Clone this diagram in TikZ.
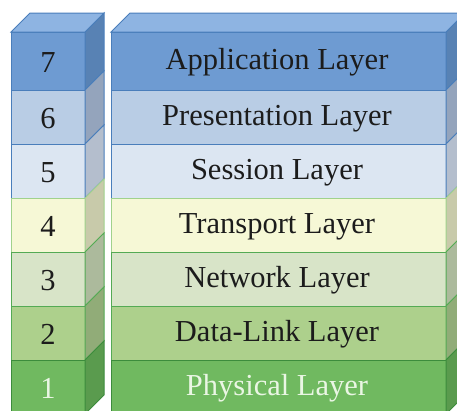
\documentclass[tikz,border=0pt]{standalone}
\usepackage{fontspec}
\setmainfont{Liberation Serif}
\definecolor{f7}{RGB}{110,155,210}\definecolor{s7}{RGB}{88,130,180}\definecolor{t7}{RGB}{142,180,226}\definecolor{bblue}{RGB}{74,126,187}
\definecolor{f6}{RGB}{185,205,229}\definecolor{s6}{RGB}{148,164,188}
\definecolor{f5}{RGB}{220,230,242}\definecolor{s5}{RGB}{180,190,205}
\definecolor{f4}{RGB}{246,248,214}\definecolor{s4}{RGB}{200,202,170}\definecolor{byel}{RGB}{160,210,140}
\definecolor{f3}{RGB}{216,228,200}\definecolor{s3}{RGB}{172,186,156}\definecolor{bgreen}{RGB}{84,170,84}
\definecolor{f2}{RGB}{173,208,140}\definecolor{s2}{RGB}{145,172,120}
\definecolor{f1}{RGB}{112,185,96}\definecolor{s1}{RGB}{90,155,78}\definecolor{bdark}{RGB}{60,140,60}
\definecolor{txt}{RGB}{28,28,28}\definecolor{txtw}{RGB}{234,246,228}
\newcommand\osilayer[9]{%
  \node[face=#6, fill=#4, minimum width=74pt, minimum height=#3pt, text=#9] (n#1) at (48,#2+#3/2) {};
  \node[text=#9, font=\fontsize{30.5}{36}\selectfont] (tn#1) at (48,#2+#3/2+1.5) {#7};
  \node[face=#6, fill=#4, minimum width=335pt, minimum height=#3pt, text=#9] (l#1) at (278.5,#2+#3/2) {};
  \node[text=#9, font=\fontsize{30.5}{36}\selectfont] (tl#1) at (277,#2+#3/2+1.5) {#8};
  \draw[sideface=#6, fill=#5] (n#1.north east) -- ++(19,-19) -- ([shift={(19,-19)}]n#1.south east) -- (n#1.south east) -- cycle;
  \draw[sideface=#6, fill=#5] (l#1.north east) -- ++(19,-19) -- ([shift={(19,-19)}]l#1.south east) -- (l#1.south east) -- cycle;
}
\begin{document}
\begin{tikzpicture}[x=1pt,y=-1pt,
  face/.style={draw=#1, line width=1pt, inner sep=0pt, outer sep=0pt},
  sideface/.style={draw=#1, line width=1pt, line join=miter}]
\useasboundingbox (0,0) rectangle (457,410);
\clip (0,0) rectangle (457,410);
\fill[white] (0,0) rectangle (457,410);
\osilayer{7}{32}{58}{f7}{s7}{bblue}{7}{Application Layer}{txt}
\osilayer{6}{90}{54}{f6}{s6}{bblue}{6}{Presentation Layer}{txt}
\osilayer{5}{144}{54}{f5}{s5}{bblue}{5}{Session Layer}{txt}
\osilayer{4}{198}{54}{f4}{s4}{byel}{4}{Transport Layer}{txt}
\osilayer{3}{252}{54}{f3}{s3}{bgreen}{3}{Network Layer}{txt}
\osilayer{2}{306}{54}{f2}{s2}{bgreen}{2}{Data-Link Layer}{txt}
\osilayer{1}{360}{54}{f1}{s1}{bdark}{1}{Physical Layer}{txtw}
\draw[sideface=bblue, fill=t7] (n7.north west) -- ++(19,-19) -- ([shift={(19,-19)}]n7.north east) -- (n7.north east) -- cycle;
\draw[sideface=bblue, fill=t7] (l7.north west) -- ++(19,-19) -- ([shift={(19,-19)}]l7.north east) -- (l7.north east) -- cycle;
\end{tikzpicture}
\end{document}
